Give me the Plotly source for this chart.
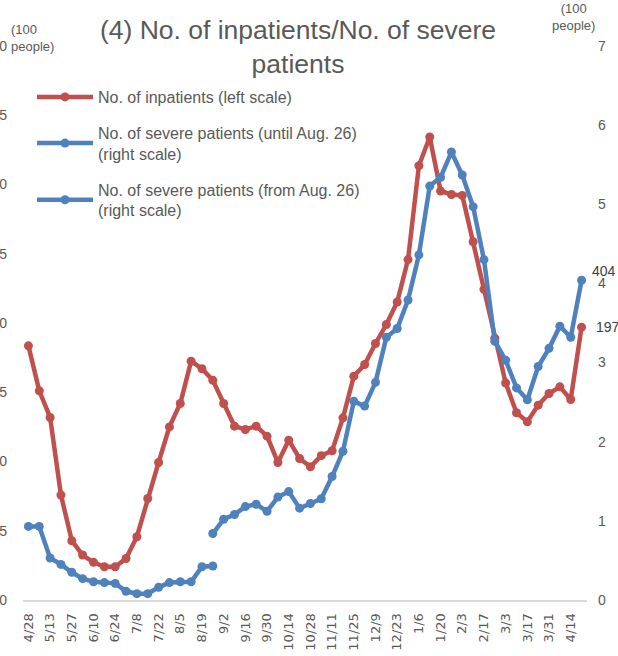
import plotly.graph_objects as go

categories = ["4/28", "5/6", "5/13", "5/20", "5/27", "6/3", "6/10", "6/17", "6/24", "7/1",
              "7/8", "7/15", "7/22", "7/29", "8/5", "8/12", "8/19", "8/26", "9/2", "9/9",
              "9/16", "9/23", "9/30", "10/7", "10/14", "10/21", "10/28", "11/4", "11/11", "11/18",
              "11/25", "12/2", "12/9", "12/16", "12/23", "12/30", "1/6", "1/13", "1/20", "1/27",
              "2/3", "2/10", "2/17", "2/24", "3/3", "3/10", "3/17", "3/24", "3/31", "4/7",
              "4/14", "4/21"]

tick_labels = categories[::2]

# No. of inpatients (1000 people, left scale)
inpatients = [18.35, 15.1, 13.18, 7.58, 4.28, 3.25, 2.72, 2.4, 2.4, 3.0,
              4.57, 7.33, 9.93, 12.5, 14.19, 17.24, 16.7, 15.87, 14.19, 12.55,
              12.31, 12.55, 11.83, 9.93, 11.54, 10.22, 9.62, 10.42, 10.78, 13.15,
              16.16, 17.0, 18.52, 19.89, 21.52, 24.58, 31.35, 33.43, 29.53, 29.28,
              29.21, 25.87, 22.43, 18.9, 15.67, 13.52, 12.87, 14.07, 14.91, 15.39,
              14.48, 19.7]

# No. of severe patients (100 people, right scale)
severe_until = [0.93, 0.93, 0.53, 0.45, 0.35, 0.27, 0.23, 0.22, 0.21, 0.11,
                0.08, 0.08, 0.16, 0.22, 0.23, 0.23, 0.42, 0.43] + [None] * 34

severe_from = [None] * 17 + [0.84, 1.02, 1.08, 1.18, 1.21, 1.12, 1.30, 1.37, 1.16, 1.22,
                             1.28, 1.56, 1.88, 2.51, 2.45, 2.75, 3.32, 3.43, 3.79, 4.36,
                             5.23, 5.34, 5.66, 5.37, 4.97, 4.30, 3.27, 3.03, 2.68, 2.53,
                             2.95, 3.18, 3.46, 3.32, 4.04]

last_inpatient_label = "197"
last_severe_label = "404"

RED = "#C0504D"
BLUE = "#4F81BD"
GREY = "#595959"
FONT = "Liberation Sans, Arial, sans-serif"

fig = go.Figure()
fig.add_trace(go.Scatter(x=categories, y=inpatients, name="No. of inpatients (left scale)",
                         mode="lines+markers", line=dict(color=RED, width=4.5),
                         marker=dict(size=9, color=RED), legendgroup="a", yaxis="y"))
fig.add_trace(go.Scatter(x=categories, y=severe_until,
                         name="No. of severe patients (until Aug. 26)<br>(right scale)",
                         mode="lines+markers", line=dict(color=BLUE, width=4.5),
                         marker=dict(size=9, color=BLUE), legendgroup="b", yaxis="y2"))
fig.add_trace(go.Scatter(x=categories, y=severe_from,
                         name="No. of severe patients (from Aug. 26)<br>(right scale)",
                         mode="lines+markers", line=dict(color=BLUE, width=4.5),
                         marker=dict(size=9, color=BLUE), legendgroup="c", yaxis="y2"))

fig.add_annotation(x=categories[-1], y=severe_from[-1], xref="x", yref="y2",
                   text=last_severe_label, showarrow=False, xanchor="left",
                   xshift=8, yshift=9, font=dict(size=14, color="#404040", family=FONT))
fig.add_annotation(x=categories[-1], y=inpatients[-1], xref="x", yref="y",
                   text=last_inpatient_label, showarrow=False, xanchor="left",
                   xshift=12, yshift=0, font=dict(size=14, color="#404040", family=FONT))

# axis unit labels
fig.add_annotation(x=-14 / 564, y=1.0, xref="paper", yref="paper", yanchor="bottom",
                   xanchor="left", align="left", text="(100<br>people)", showarrow=False,
                   yshift=-10, font=dict(size=13, color=GREY, family=FONT))
fig.add_annotation(x=1 - 14 / 564, y=1.0, xref="paper", yref="paper", yanchor="bottom",
                   xanchor="center", align="center", text="(100<br>people)", showarrow=False,
                   yshift=11, font=dict(size=13, color=GREY, family=FONT))

fig.update_layout(
    width=618, height=656,
    margin=dict(l=23, r=31, t=46, b=56, autoexpand=False),
    paper_bgcolor="white", plot_bgcolor="white",
    title=dict(text="(4) No. of inpatients/No. of severe<br>patients", xref="container",
               x=298 / 618, xanchor="center", yref="container", y=1 - 39 / 656,
               yanchor="top", font=dict(size=26.5, color=GREY, family=FONT)),
    font=dict(family=FONT, color=GREY),
    showlegend=True,
    legend=dict(x=9 / 564, y=(600 - 80) / 554, xanchor="left", yanchor="top",
                bgcolor="rgba(0,0,0,0)", font=dict(size=16, color=GREY, family=FONT),
                tracegroupgap=12, itemwidth=56),
    xaxis=dict(type="category", categoryorder="array", categoryarray=categories,
               tickmode="array", tickvals=tick_labels, ticktext=tick_labels,
               tickangle=-90, showgrid=False, zeroline=False, showline=True,
               linecolor="#D9D9D9", linewidth=2, ticks="", ticklabelstandoff=6,
               tickfont=dict(family="DejaVu Sans", size=13, color=GREY),
               automargin=False, range=[-0.5, 51.5]),
    yaxis=dict(range=[0, 40], tickvals=list(range(0, 41, 5)), showgrid=False,
               zeroline=False, showline=False, ticks="", ticklabelstandoff=15,
               tickfont=dict(size=14, color=GREY, family=FONT), automargin=False),
    yaxis2=dict(range=[0, 7], tickvals=list(range(0, 8)), overlaying="y", side="right",
                showgrid=False, zeroline=False, showline=False, ticks="",
                ticklabelstandoff=10, tickfont=dict(size=14, color=GREY, family=FONT),
                automargin=False),
)

fig.write_html("out.html", config={"displayModeBar": False},
               post_script="document.body.style.margin='0';")
